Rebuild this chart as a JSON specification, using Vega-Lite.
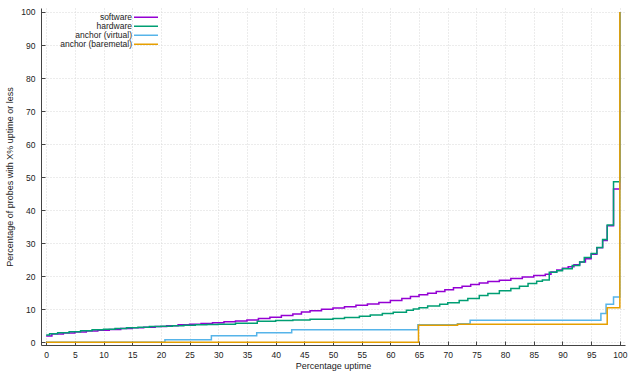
{
  "$schema": "https://vega.github.io/schema/vega-lite/v6.json",
  "width": 584,
  "height": 337,
  "autosize": {"type": "none"},
  "padding": {"left": 41, "top": 8, "right": 15, "bottom": 28},
  "background": "white",
  "config": {
    "view": {"stroke": null},
    "font": "Liberation Sans"
  },
  "datasets": {
    "cdf": [
      {"series": "software", "x": 0, "y": 1.9},
      {"series": "software", "x": 1, "y": 2.5},
      {"series": "software", "x": 3, "y": 2.8},
      {"series": "software", "x": 5, "y": 3.1},
      {"series": "software", "x": 7, "y": 3.4},
      {"series": "software", "x": 9, "y": 3.7},
      {"series": "software", "x": 11, "y": 3.9},
      {"series": "software", "x": 13, "y": 4.2},
      {"series": "software", "x": 15, "y": 4.4},
      {"series": "software", "x": 17, "y": 4.6},
      {"series": "software", "x": 19, "y": 4.8},
      {"series": "software", "x": 21, "y": 5.0},
      {"series": "software", "x": 23, "y": 5.3},
      {"series": "software", "x": 25, "y": 5.5},
      {"series": "software", "x": 27, "y": 5.7},
      {"series": "software", "x": 29, "y": 5.9},
      {"series": "software", "x": 31, "y": 6.2},
      {"series": "software", "x": 33, "y": 6.5},
      {"series": "software", "x": 35, "y": 6.8},
      {"series": "software", "x": 37, "y": 7.2},
      {"series": "software", "x": 39, "y": 7.6},
      {"series": "software", "x": 41, "y": 8.1},
      {"series": "software", "x": 43, "y": 8.6},
      {"series": "software", "x": 44.5, "y": 9.2},
      {"series": "software", "x": 46, "y": 9.6},
      {"series": "software", "x": 48, "y": 10.0},
      {"series": "software", "x": 50, "y": 10.4},
      {"series": "software", "x": 52, "y": 10.8},
      {"series": "software", "x": 54, "y": 11.2},
      {"series": "software", "x": 56, "y": 11.6},
      {"series": "software", "x": 58, "y": 12.1},
      {"series": "software", "x": 60, "y": 12.7},
      {"series": "software", "x": 62, "y": 13.3},
      {"series": "software", "x": 63.5, "y": 13.9},
      {"series": "software", "x": 65, "y": 14.4},
      {"series": "software", "x": 66.5, "y": 14.9},
      {"series": "software", "x": 68, "y": 15.4},
      {"series": "software", "x": 69.5, "y": 15.9},
      {"series": "software", "x": 71, "y": 16.5},
      {"series": "software", "x": 72.5, "y": 17.0},
      {"series": "software", "x": 74, "y": 17.5},
      {"series": "software", "x": 75.5, "y": 18.0},
      {"series": "software", "x": 77, "y": 18.4},
      {"series": "software", "x": 79, "y": 18.8},
      {"series": "software", "x": 81, "y": 19.3},
      {"series": "software", "x": 83, "y": 19.8},
      {"series": "software", "x": 85, "y": 20.2},
      {"series": "software", "x": 87, "y": 20.6},
      {"series": "software", "x": 88, "y": 21.3},
      {"series": "software", "x": 89, "y": 21.9},
      {"series": "software", "x": 90, "y": 22.4},
      {"series": "software", "x": 91, "y": 22.9},
      {"series": "software", "x": 92, "y": 23.5},
      {"series": "software", "x": 93, "y": 24.3},
      {"series": "software", "x": 94, "y": 25.3},
      {"series": "software", "x": 95, "y": 26.7},
      {"series": "software", "x": 96, "y": 28.6},
      {"series": "software", "x": 97, "y": 30.8},
      {"series": "software", "x": 97.8, "y": 35.3},
      {"series": "software", "x": 98.9, "y": 46.4},
      {"series": "software", "x": 100, "y": 100},
      {"series": "hardware", "x": 0, "y": 2.2},
      {"series": "hardware", "x": 0.6, "y": 2.6},
      {"series": "hardware", "x": 2, "y": 2.9},
      {"series": "hardware", "x": 4, "y": 3.2},
      {"series": "hardware", "x": 6, "y": 3.5},
      {"series": "hardware", "x": 8, "y": 3.8},
      {"series": "hardware", "x": 10, "y": 4.0},
      {"series": "hardware", "x": 12, "y": 4.2},
      {"series": "hardware", "x": 14, "y": 4.4},
      {"series": "hardware", "x": 16, "y": 4.6},
      {"series": "hardware", "x": 18, "y": 4.8},
      {"series": "hardware", "x": 20, "y": 4.9},
      {"series": "hardware", "x": 22, "y": 5.0},
      {"series": "hardware", "x": 24, "y": 5.2},
      {"series": "hardware", "x": 26, "y": 5.3},
      {"series": "hardware", "x": 28, "y": 5.4},
      {"series": "hardware", "x": 30, "y": 5.5},
      {"series": "hardware", "x": 33, "y": 5.8},
      {"series": "hardware", "x": 36.8, "y": 6.4},
      {"series": "hardware", "x": 40, "y": 6.6},
      {"series": "hardware", "x": 43, "y": 6.8},
      {"series": "hardware", "x": 46, "y": 7.0},
      {"series": "hardware", "x": 50, "y": 7.2},
      {"series": "hardware", "x": 52, "y": 7.5},
      {"series": "hardware", "x": 54.6, "y": 7.9},
      {"series": "hardware", "x": 56.5, "y": 8.3},
      {"series": "hardware", "x": 58.6, "y": 8.7},
      {"series": "hardware", "x": 60.5, "y": 9.1},
      {"series": "hardware", "x": 62.8, "y": 9.7},
      {"series": "hardware", "x": 64, "y": 10.1},
      {"series": "hardware", "x": 65, "y": 10.5},
      {"series": "hardware", "x": 66.5, "y": 11.0},
      {"series": "hardware", "x": 68.6, "y": 11.5},
      {"series": "hardware", "x": 70, "y": 12.0},
      {"series": "hardware", "x": 72, "y": 12.7},
      {"series": "hardware", "x": 73.5, "y": 13.3},
      {"series": "hardware", "x": 75.5, "y": 14.2},
      {"series": "hardware", "x": 77, "y": 14.8},
      {"series": "hardware", "x": 79, "y": 15.6},
      {"series": "hardware", "x": 81, "y": 16.3},
      {"series": "hardware", "x": 82.5, "y": 17.0},
      {"series": "hardware", "x": 84, "y": 17.8},
      {"series": "hardware", "x": 85.5, "y": 18.5},
      {"series": "hardware", "x": 86.5, "y": 18.9},
      {"series": "hardware", "x": 87.7, "y": 21.2},
      {"series": "hardware", "x": 89, "y": 21.7},
      {"series": "hardware", "x": 90, "y": 22.3},
      {"series": "hardware", "x": 91.7, "y": 23.3},
      {"series": "hardware", "x": 93, "y": 24.3},
      {"series": "hardware", "x": 93.8, "y": 25.7},
      {"series": "hardware", "x": 95, "y": 26.9},
      {"series": "hardware", "x": 96, "y": 28.7},
      {"series": "hardware", "x": 97, "y": 31.1},
      {"series": "hardware", "x": 97.8, "y": 35.5},
      {"series": "hardware", "x": 98.9, "y": 48.6},
      {"series": "hardware", "x": 100, "y": 100},
      {"series": "anchor (virtual)", "x": 0, "y": 0},
      {"series": "anchor (virtual)", "x": 20.7, "y": 0.8},
      {"series": "anchor (virtual)", "x": 28.8, "y": 2.0},
      {"series": "anchor (virtual)", "x": 36.7, "y": 2.9},
      {"series": "anchor (virtual)", "x": 42.8, "y": 3.8},
      {"series": "anchor (virtual)", "x": 64.8, "y": 5.3},
      {"series": "anchor (virtual)", "x": 71.7, "y": 5.6},
      {"series": "anchor (virtual)", "x": 73.9, "y": 6.7},
      {"series": "anchor (virtual)", "x": 96.7, "y": 8.7},
      {"series": "anchor (virtual)", "x": 97.6, "y": 11.5},
      {"series": "anchor (virtual)", "x": 98.9, "y": 13.7},
      {"series": "anchor (virtual)", "x": 100, "y": 100},
      {"series": "anchor (baremetal)", "x": 0, "y": 0},
      {"series": "anchor (baremetal)", "x": 64.9, "y": 5.2},
      {"series": "anchor (baremetal)", "x": 71.7, "y": 5.5},
      {"series": "anchor (baremetal)", "x": 97.8, "y": 10.5},
      {"series": "anchor (baremetal)", "x": 100, "y": 100}
    ]
  },
  "data": {"name": "cdf"},
  "mark": {"type": "line", "interpolate": "step-after", "strokeWidth": 1.5, "clip": false},
  "encoding": {
    "x": {
      "field": "x", "type": "quantitative",
      "scale": {"domain": [-0.9, 100.9], "nice": false, "zero": false},
      "axis": {
        "title": "Percentage uptime",
        "values": [0,5,10,15,20,25,30,35,40,45,50,55,60,65,70,75,80,85,90,95,100],
        "grid": true, "gridColor": "#d8d8d8", "gridDash": [1, 2], "gridWidth": 1,
        "domainColor": "#444", "domainWidth": 1,
        "tickColor": "#444", "tickSize": -4, "tickWidth": 1,
        "labelFontSize": 8.5, "labelColor": "#222", "labelPadding": 9, "labelFlush": false,
        "titleFontSize": 9, "titleFontWeight": "normal", "titleColor": "#222", "titlePadding": 3
      }
    },
    "y": {
      "field": "y", "type": "quantitative",
      "scale": {"domain": [-0.8, 101.2], "nice": false, "zero": false},
      "axis": {
        "title": "Percentage of probes with X% uptime or less",
        "values": [0,10,20,30,40,50,60,70,80,90,100],
        "grid": true, "gridColor": "#d8d8d8", "gridDash": [1, 2], "gridWidth": 1,
        "domainColor": "#444", "domainWidth": 1,
        "tickColor": "#444", "tickSize": -4, "tickWidth": 1,
        "labelFontSize": 8.5, "labelColor": "#222", "labelPadding": 10,
        "titleFontSize": 9, "titleFontWeight": "normal", "titleColor": "#222", "titlePadding": 6
      }
    },
    "color": {
      "field": "series", "type": "nominal",
      "sort": ["software", "hardware", "anchor (virtual)", "anchor (baremetal)"],
      "scale": {
        "domain": ["software", "hardware", "anchor (virtual)", "anchor (baremetal)"],
        "range": ["#9400d3", "#009e73", "#56b4e9", "#e69f00"]
      },
      "legend": {
        "orient": "none", "legendX": 100.75, "legendY": 5,
        "title": null, "padding": 0,
        "symbolType": "M-4,0H4", "symbolSize": 36, "symbolStrokeWidth": 1.5,
        "labelAlign": "right", "labelOffset": -18.25,
        "labelFontSize": 8.5, "labelColor": "#222", "labelFont": "Liberation Sans",
        "rowPadding": -0.2
      }
    }
  }
}
